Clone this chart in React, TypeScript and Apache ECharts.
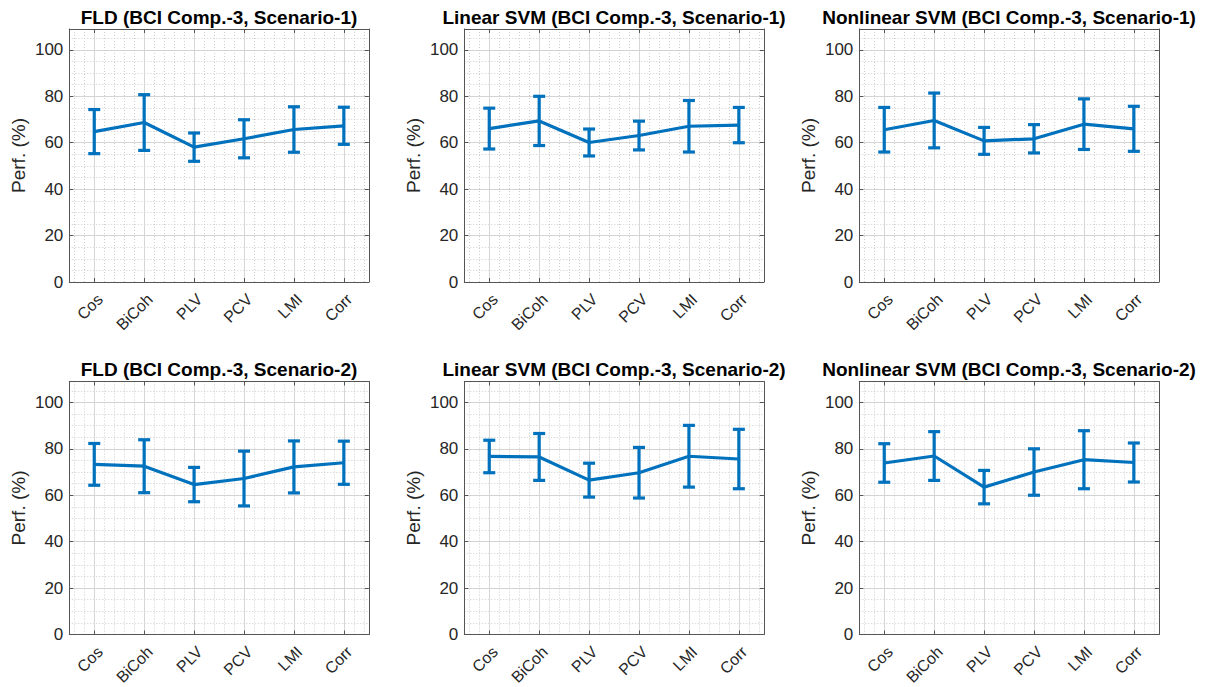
import React, { useEffect, useRef } from "react";
import * as echarts from "echarts";

const categories = ["Cos", "BiCoh", "PLV", "PCV", "LMI", "Corr"];
const titles = [
  "FLD (BCI Comp.-3, Scenario-1)",
  "Linear SVM (BCI Comp.-3, Scenario-1)",
  "Nonlinear SVM (BCI Comp.-3, Scenario-1)",
  "FLD (BCI Comp.-3, Scenario-2)",
  "Linear SVM (BCI Comp.-3, Scenario-2)",
  "Nonlinear SVM (BCI Comp.-3, Scenario-2)",
];

// mean performance (%)
const fldS1Mean = [64.8, 68.7, 58.1, 61.7, 65.7, 67.3];
const linS1Mean = [66.1, 69.4, 60.1, 63.1, 67.1, 67.6];
const nlnS1Mean = [65.6, 69.6, 60.8, 61.7, 68.0, 66.0];
const fldS2Mean = [73.3, 72.5, 64.6, 67.2, 72.2, 74.0];
const linS2Mean = [76.7, 76.5, 66.5, 69.7, 76.8, 75.6];
const nlnS2Mean = [73.9, 76.9, 63.5, 70.0, 75.3, 74.1];

// error bar half length (%)
const fldS1Err = [9.5, 12.0, 6.1, 8.2, 9.8, 8.0];
const linS1Err = [8.8, 10.6, 5.8, 6.2, 11.1, 7.6];
const nlnS1Err = [9.6, 11.8, 5.8, 6.1, 10.9, 9.7];
const fldS2Err = [9.0, 11.4, 7.4, 11.8, 11.2, 9.3];
const linS2Err = [7.0, 10.1, 7.3, 10.9, 13.3, 12.8];
const nlnS2Err = [8.3, 10.5, 7.2, 10.0, 12.5, 8.4];

const yTicks = [0, 20, 40, 60, 80, 100];

const means = [fldS1Mean, linS1Mean, nlnS1Mean, fldS2Mean, linS2Mean, nlnS2Mean];
const errs = [fldS1Err, linS1Err, nlnS1Err, fldS2Err, linS2Err, nlnS2Err];

const FONT = "'Liberation Sans', Arial, Helvetica, sans-serif";
const BLUE = "#0072BD";
const AXIS = "#555555";
const TEXT = "#262626";
const MINOR = "#cdcdcd";
const MAJOR = "#d6d6d6";

const colLeft = [69.3, 464.3, 859.3];
const rowTop = [29, 381.5];
const PW = 299.5;
const PH = 253;

export default function App() {
  const ref = useRef<HTMLDivElement>(null);
  useEffect(() => {
    if (!ref.current) return;
    const chart = echarts.init(ref.current, null, { renderer: "svg" });
    const fine = Array.from({ length: 61 }, (_, i) => String(i));
    const grid: any[] = [];
    const xAxis: any[] = [];
    const yAxis: any[] = [];
    const series: any[] = [];
    const graphic: any[] = [];
    for (let p = 0; p < 6; p++) {
      const r = Math.floor(p / 3);
      const c = p % 3;
      const left = colLeft[c];
      const top = rowTop[r];
      grid.push({ left, top, width: PW, height: PH, containLabel: false, outerBoundsMode: "none" });
      // bottom labelled category axis
      xAxis.push({
        type: "category",
        gridIndex: p,
        position: "bottom",
        data: categories,
        boundaryGap: true,
        axisLine: { show: true, onZero: false, lineStyle: { color: AXIS, width: 1 } },
        axisTick: { show: true, inside: true, alignWithLabel: true, length: 4, lineStyle: { color: AXIS } },
        axisLabel: {
          interval: 0,
          rotate: 45,
          fontSize: 16,
          color: TEXT,
          fontFamily: FONT,
          margin: 9,
          align: "right",
          verticalAlign: "top",
        },
        splitLine: { show: false },
      });
      // top mirrored axis
      xAxis.push({
        type: "category",
        gridIndex: p,
        position: "top",
        data: categories,
        boundaryGap: true,
        axisLine: { show: true, onZero: false, lineStyle: { color: AXIS, width: 1 } },
        axisTick: { show: true, inside: true, alignWithLabel: true, length: 4, lineStyle: { color: AXIS } },
        axisLabel: { show: false },
        splitLine: { show: false },
      });
      // minor vertical grid (every 0.2 category)
      xAxis.push({
        type: "category",
        gridIndex: p,
        position: "bottom",
        data: fine,
        boundaryGap: false,
        axisLine: { show: false, onZero: false },
        axisTick: { show: false },
        axisLabel: { show: false },
        splitLine: {
          show: true,
          interval: (i: number) => i % 2 === 1,
          lineStyle: { color: MINOR, type: [1, 2], width: 1 },
        },
      });
      // major vertical grid (category centres)
      xAxis.push({
        type: "category",
        gridIndex: p,
        position: "bottom",
        data: fine,
        boundaryGap: false,
        axisLine: { show: false, onZero: false },
        axisTick: { show: false },
        axisLabel: { show: false },
        splitLine: {
          show: true,
          interval: (i: number) => i % 10 === 5,
          lineStyle: { color: MAJOR, type: "solid", width: 1 },
        },
      });
      yAxis.push({
        type: "value",
        gridIndex: p,
        position: "left",
        min: 0,
        max: 109,
        interval: 20,
        name: "Perf. (%)",
        nameLocation: "middle",
        nameGap: 41,
        nameTextStyle: { fontSize: 19, color: TEXT, fontFamily: FONT },
        axisLine: { show: true, onZero: false, lineStyle: { color: AXIS, width: 1 } },
        axisTick: { show: true, inside: true, length: 4, lineStyle: { color: AXIS } },
        axisLabel: {
          fontSize: 17,
          color: TEXT,
          fontFamily: FONT,
          margin: 6,
          formatter: (v: number) => (yTicks.indexOf(v) >= 0 ? String(v) : ""),
        },
        splitLine: { show: true, lineStyle: { color: MAJOR, width: 1 } },
      });
      yAxis.push({
        type: "value",
        gridIndex: p,
        position: "right",
        min: 0,
        max: 109,
        interval: 20,
        axisLine: { show: true, onZero: false, lineStyle: { color: AXIS, width: 1 } },
        axisTick: { show: true, inside: true, length: 4, lineStyle: { color: AXIS } },
        axisLabel: { show: false },
        splitLine: { show: false },
      });
      yAxis.push({
        type: "value",
        gridIndex: p,
        position: "left",
        min: 0,
        max: 109,
        interval: 5,
        axisLine: { show: false },
        axisTick: { show: false },
        axisLabel: { show: false },
        splitLine: { show: true, lineStyle: { color: MINOR, type: [1, 2], width: 1 } },
      });
      const m = means[p];
      const e = errs[p];
      series.push({
        type: "line",
        xAxisIndex: p * 4,
        yAxisIndex: p * 3,
        data: m,
        symbol: "none",
        lineStyle: { color: BLUE, width: 3.2 },
        z: 5,
      });
      series.push({
        type: "custom",
        xAxisIndex: p * 4,
        yAxisIndex: p * 3,
        data: m.map((v, i) => [i, v - e[i], v + e[i]]),
        encode: { x: 0, y: [1, 2] },
        z: 6,
        renderItem: (_params: any, api: any) => {
          const x = api.value(0);
          const lo = api.coord([x, api.value(1)]);
          const hi = api.coord([x, api.value(2)]);
          const hw = 6;
          const st = { stroke: BLUE, lineWidth: 3.2, fill: "none" };
          return {
            type: "group",
            children: [
              { type: "line", shape: { x1: lo[0], y1: lo[1], x2: hi[0], y2: hi[1] }, style: st },
              { type: "line", shape: { x1: lo[0] - hw, y1: lo[1], x2: lo[0] + hw, y2: lo[1] }, style: st },
              { type: "line", shape: { x1: hi[0] - hw, y1: hi[1], x2: hi[0] + hw, y2: hi[1] }, style: st },
            ],
          };
        },
      });
      graphic.push({
        type: "text",
        x: left + PW / 2,
        y: top - 12,
        style: {
          text: titles[p],
          fontSize: 19,
          fontWeight: "bold",
          fontFamily: FONT,
          fill: "#000",
          align: "center",
          verticalAlign: "middle",
        },
      });
    }
    chart.setOption({
      animation: false,
      backgroundColor: "#ffffff",
      grid,
      xAxis,
      yAxis,
      series,
      graphic,
    });
    return () => chart.dispose();
  }, []);
  return (
    <div
      ref={ref}
      style={{ position: "absolute", left: 0, top: 0, width: 1205, height: 687, background: "#fff" }}
    />
  );
}
